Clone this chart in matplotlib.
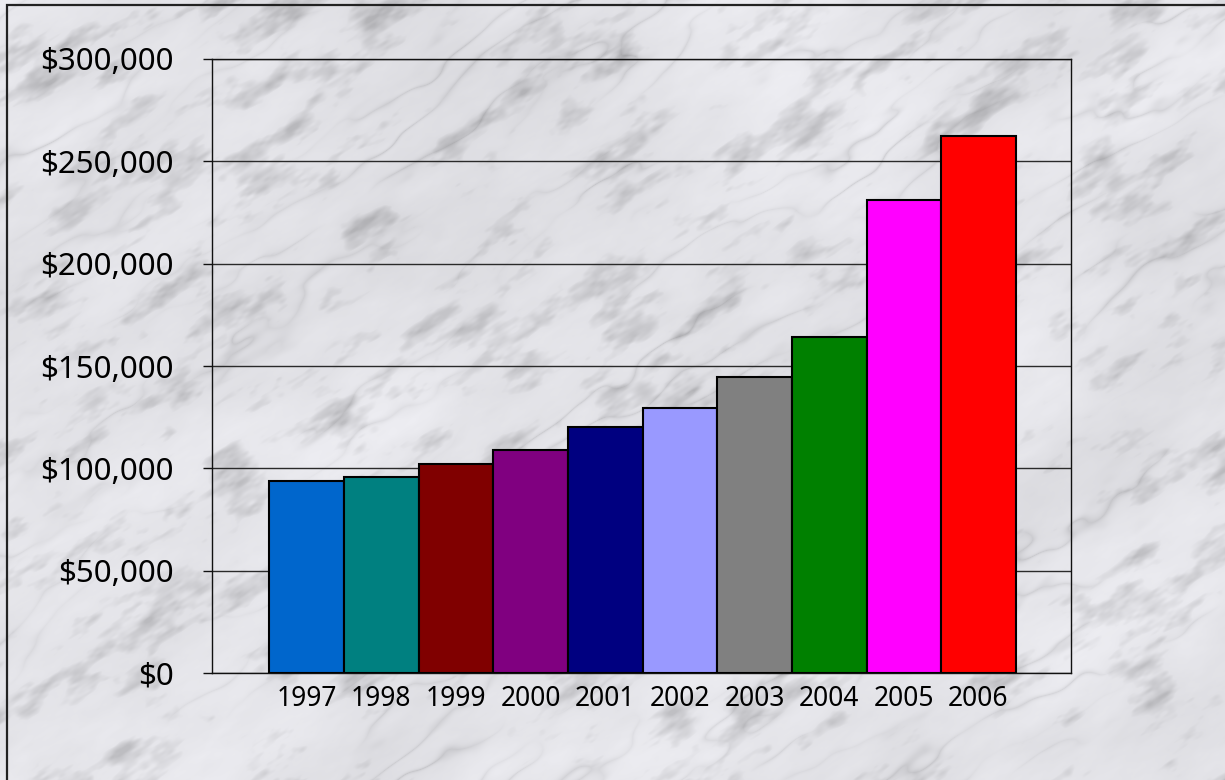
import numpy as np
import matplotlib
matplotlib.use("Agg")
import matplotlib.pyplot as plt
from matplotlib.patches import Rectangle
from matplotlib.ticker import FuncFormatter, MultipleLocator

# yearly values
years = ["1997", "1998", "1999", "2000", "2001", "2002", "2003", "2004", "2005", "2006"]
amounts = [94000, 96000, 102000, 109000, 120000, 129500, 144500, 164000, 231000, 262500]
bar_colors = ["#0066CC", "#008080", "#800000", "#800080", "#000080",
              "#9999FF", "#808080", "#008000", "#FF00FF", "#FF0000"]

W, H = 1225, 780
rng = np.random.default_rng(11)


def noise(px, py, scale):
    # smooth value noise sampled at float pixel coords
    fx = px / scale
    fy = py / scale
    x0 = np.floor(fx).astype(int)
    y0 = np.floor(fy).astype(int)
    g = rng.random((y0.max() + 2, x0.max() + 2))
    tx = fx - x0
    ty = fy - y0
    tx = tx * tx * (3 - 2 * tx)
    ty = ty * ty * (3 - 2 * ty)
    a = g[y0, x0]
    b = g[y0, x0 + 1]
    c = g[y0 + 1, x0]
    d = g[y0 + 1, x0 + 1]
    return (a * (1 - tx) + b * tx) * (1 - ty) + (c * (1 - tx) + d * tx) * ty


def fbm(px, py, scales):
    total = np.zeros_like(px)
    wsum = 0.0
    w = 1.0
    for s in scales:
        total += w * noise(px, py, s)
        wsum += w
        w *= 0.6
    return total / wsum


# marble background texture, streaks running up to the right
yy, xx = np.mgrid[0:H, 0:W].astype(float)
u = xx * 0.84 - yy * 0.54 + H
v = xx * 0.54 + yy * 0.84
cloud = fbm(u / 2.0, v, [140, 70, 35])
mottle = fbm(u / 2.5, v, [24, 12, 6, 3])
turb = fbm(u / 2.5, v, [80, 40, 20, 10])
phase = v * 0.07 + 10.0 * turb
veins = (1 - np.abs(np.sin(phase))) ** 4
mask = np.clip((fbm(u / 2.0, v, [60, 30]) - 0.4) * 3, 0, 1)
spots = np.clip((mottle - 0.56) * 3.5, 0, 1)
shade = (0.915 - 0.12 * (cloud - 0.5) - 0.15 * spots
         - 0.10 * veins * mask - 0.05 * (mottle - 0.5))
shade = np.clip(shade, 0.55, 0.99)
marble = np.dstack([shade * 0.975, shade * 0.975, shade * 0.995])

fig = plt.figure(figsize=(W / 100, H / 100), dpi=100)
fig.figimage(marble, 0, 0, zorder=-1)

ax = fig.add_axes([212 / W, 1 - 673 / H, (1071 - 212) / W, (673 - 59) / H])
ax.set_zorder(1)
ax.set_facecolor("none")

x = np.arange(len(years))
ax.bar(x, amounts, width=1.0, color=bar_colors, edgecolor="black", linewidth=1.5, zorder=3)

ax.set_xlim(-1.27, len(years) - 1 + 1.24)
ax.set_ylim(0, 300000)
ax.yaxis.set_major_locator(MultipleLocator(50000))
ax.yaxis.set_major_formatter(FuncFormatter(lambda val, pos: f"${val:,.0f}"))
ax.set_xticks(x)
ax.set_xticklabels(years)

ax.grid(axis="y", color="#2a2a2a", linewidth=1.0, zorder=1)
ax.set_axisbelow(True)
for side in ax.spines.values():
    side.set_color("#111111")
    side.set_linewidth(1.0)

ax.tick_params(axis="y", direction="out", length=6.5, width=1.0, color="#111111",
               pad=21, labelsize=22.5)
ax.tick_params(axis="x", length=0, pad=9, labelsize=19)
for lab in ax.get_yticklabels() + ax.get_xticklabels():
    lab.set_fontfamily(["Noto Sans", "DejaVu Sans"])
    lab.set_color("black")

# frame line along the left and top edges
fig.patches.append(Rectangle((7 / W, -0.1), 1.2, 1.1 - 5 / H, transform=fig.transFigure,
                             fill=False, edgecolor="#222222", linewidth=1.6, zorder=5))

fig.savefig("out.png", dpi=100)
